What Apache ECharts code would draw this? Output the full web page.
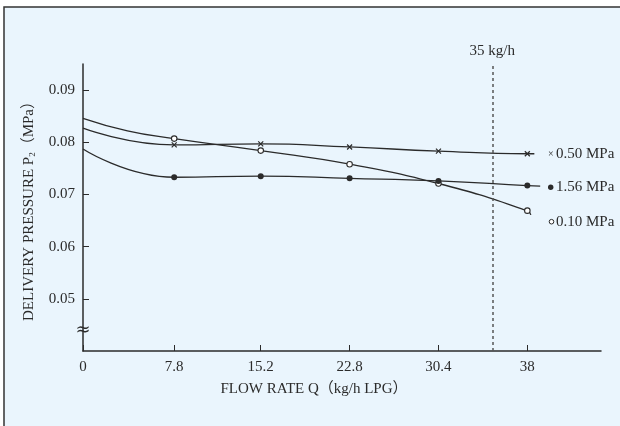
<!DOCTYPE html>
<html>
<head>
<meta charset="utf-8">
<script src="https://cdn.jsdelivr.net/npm/echarts@6/dist/echarts.min.js"></script>
<style>html,body{margin:0;padding:0;background:#fff}#c{width:620px;height:426px}</style>
</head>
<body>
<div id="c"></div>
<script>
// ---- data ----
const flowTicks = [0, 7.8, 15.2, 22.8, 30.4, 38];
const pressureTicks = [0.05, 0.06, 0.07, 0.08, 0.09];
const flow = [0, 7.8, 15.2, 22.8, 30.4, 38];
const p010 = [0.0846, 0.0807, 0.0784, 0.0758, 0.0721, 0.0669];
const p050 = [0.0827, 0.0795, 0.0797, 0.0791, 0.0783, 0.0778];
const p156 = [0.0787, 0.0733, 0.0735, 0.0731, 0.0726, 0.0717];
// extra unmarked points (start bend and tails)
const bend010 = [3.8, 0.0822];
const tail010 = [38.3, 0.0661];
const tail050 = [38.6, 0.0778];
const tail156 = [39.1, 0.0716];
const seriesNames = ['0.10 MPa', '0.50 MPa', '1.56 MPa'];
const refFlow = 35;
const refLabel = '35 kg/h';

const FONT = '"Liberation Serif", "DejaVu Serif", "Noto Sans CJK JP", serif';
const INK = '#2b2b2b';
const FS = 15;

function build(vals, tail, bend) {
  const d = flow.map((x, i) => i === 0 ? { value: [x, vals[i]], symbol: 'none' } : [x, vals[i]]);
  if (bend) d.splice(1, 0, { value: bend, symbol: 'none' });
  d.push({ value: tail, symbol: 'none' });
  return d;
}

const chart = echarts.init(document.getElementById('c'));
chart.setOption({
  backgroundColor: '#ffffff',
  animation: false,
  graphic: [
    { type: 'rect', z: -100, silent: true,
      shape: { x: 4, y: 7, width: 700, height: 500 },
      style: { fill: '#eaf5fd', stroke: '#333', lineWidth: 1.5 } },
    { type: 'text', z: 100, x: 83, y: 330,
      style: { text: '≈', font: '18px "DejaVu Serif", serif', fill: INK, align: 'center', verticalAlign: 'middle' } },
    // right-side series labels
    { type: 'text', x: 550.7, y: 154.3, style: { text: '×', font: '10px ' + FONT, fill: INK, align: 'center', verticalAlign: 'middle' } },
    { type: 'text', x: 556, y: 154.3, style: { text: seriesNames[1], font: FS + 'px ' + FONT, fill: INK, align: 'left', verticalAlign: 'middle' } },
    { type: 'circle', shape: { cx: 550.7, cy: 187.3, r: 2.7 }, style: { fill: INK } },
    { type: 'text', x: 556, y: 187.3, style: { text: seriesNames[2], font: FS + 'px ' + FONT, fill: INK, align: 'left', verticalAlign: 'middle' } },
    { type: 'circle', shape: { cx: 551.5, cy: 221.7, r: 2.3 }, style: { fill: '#fff', stroke: INK, lineWidth: 1 } },
    { type: 'text', x: 556, y: 221.7, style: { text: seriesNames[0], font: FS + 'px ' + FONT, fill: INK, align: 'left', verticalAlign: 'middle' } }
  ],
  grid: { left: 83, right: 19, top: 64, bottom: 75, containLabel: false },
  xAxis: {
    type: 'value', min: 0, max: 44.3,
    name: 'FLOW RATE Q（kg/h LPG）', nameLocation: 'middle', nameGap: 31,
    nameTextStyle: { fontFamily: FONT, fontSize: FS, color: INK, padding: [0, 56, 0, 0] },
    axisLine: { show: true, lineStyle: { color: INK, width: 1.5 } },
    axisTick: { show: true, inside: true, length: 6, customValues: flowTicks, lineStyle: { color: INK, width: 1 } },
    axisLabel: { customValues: flowTicks, fontFamily: FONT, fontSize: FS, color: INK, margin: 9,
                 formatter: v => String(Math.round(v * 10) / 10) },
    splitLine: { show: false }
  },
  yAxis: {
    type: 'value', min: 0.04, max: 0.095,
    name: 'DELIVERY PRESSURE P{s|2}（MPa）', nameLocation: 'middle', nameRotate: 90, nameGap: 46,
    nameTextStyle: { fontFamily: FONT, fontSize: FS, color: INK,
      rich: { s: { fontFamily: FONT, fontSize: 9, color: INK, verticalAlign: 'bottom', padding: [4, 0, 0, 0] } } },
    axisLine: { show: true, lineStyle: { color: INK, width: 1.5 } },
    axisTick: { show: true, inside: true, length: 6, customValues: pressureTicks, lineStyle: { color: INK, width: 1 } },
    axisLabel: { customValues: pressureTicks, fontFamily: FONT, fontSize: FS, color: INK, margin: 8,
                 formatter: v => v.toFixed(2) },
    splitLine: { show: false }
  },
  series: [
    { name: seriesNames[0], type: 'line', smooth: 0.5, data: build(p010, tail010, bend010),
      symbol: 'circle', symbolSize: 5.5,
      itemStyle: { color: '#ffffff', borderColor: INK, borderWidth: 1.1 },
      lineStyle: { color: INK, width: 1.3 },
      markLine: {
        silent: true, symbol: 'none', animation: false,
        lineStyle: { color: '#555', type: [3, 3], width: 1.5 },
        label: { show: true, position: 'end', distance: 5, formatter: refLabel, fontFamily: FONT, fontSize: FS, color: INK },
        data: [{ xAxis: refFlow }]
      } },
    { name: seriesNames[1], type: 'line', smooth: 0.5, data: build(p050, tail050),
      symbol: 'path://M0,0L10,10M10,0L0,10', symbolSize: 5,
      itemStyle: { color: INK, borderColor: INK, borderWidth: 1.2 },
      lineStyle: { color: INK, width: 1.3 } },
    { name: seriesNames[2], type: 'line', smooth: 0.5, data: build(p156, tail156),
      symbol: 'circle', symbolSize: 6,
      itemStyle: { color: INK, borderColor: INK, borderWidth: 0 },
      lineStyle: { color: INK, width: 1.3 } }
  ]
});
</script>
</body>
</html>
